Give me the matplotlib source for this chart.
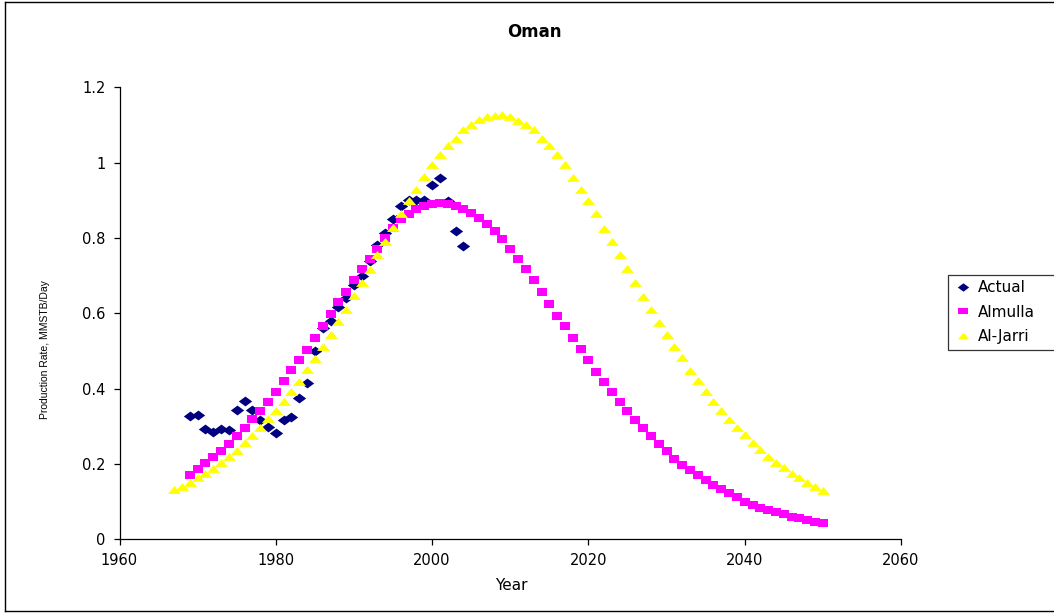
import matplotlib
matplotlib.use("Agg")
import matplotlib.pyplot as plt
from matplotlib.path import Path
from matplotlib.lines import Line2D

# ---- data -------------------------------------------------------------
years_actual = list(range(1969, 2005))
actual = [0.327, 0.331, 0.294, 0.286, 0.292, 0.290, 0.342, 0.366, 0.343,
          0.317, 0.297, 0.282, 0.318, 0.325, 0.374, 0.416, 0.501, 0.560,
          0.580, 0.617, 0.641, 0.676, 0.699, 0.740, 0.780, 0.812, 0.850,
          0.886, 0.902, 0.900, 0.900, 0.940, 0.958, 0.899, 0.819, 0.779]

years_almulla = list(range(1969, 2051))
almulla = [0.172, 0.187, 0.202, 0.219, 0.235, 0.254, 0.274, 0.295, 0.319,
           0.341, 0.364, 0.392, 0.420, 0.449, 0.476, 0.503, 0.535, 0.567,
           0.598, 0.631, 0.657, 0.688, 0.717, 0.743, 0.772, 0.799, 0.826,
           0.850, 0.864, 0.876, 0.884, 0.889, 0.892, 0.891, 0.886, 0.878,
           0.866, 0.853, 0.837, 0.818, 0.796, 0.772, 0.744, 0.717, 0.688,
           0.657, 0.625, 0.594, 0.566, 0.535, 0.504, 0.476, 0.444, 0.417,
           0.392, 0.365, 0.340, 0.317, 0.295, 0.274, 0.253, 0.235, 0.214,
           0.198, 0.185, 0.172, 0.157, 0.143, 0.133, 0.122, 0.111, 0.100,
           0.091, 0.084, 0.078, 0.072, 0.066, 0.060, 0.056, 0.051, 0.047,
           0.044]

years_aljarri = list(range(1967, 2051))
aljarri = [0.131, 0.140, 0.149, 0.162, 0.173, 0.186, 0.203, 0.218, 0.235,
           0.256, 0.275, 0.295, 0.319, 0.341, 0.365, 0.390, 0.418, 0.449,
           0.478, 0.510, 0.543, 0.577, 0.610, 0.645, 0.680, 0.716, 0.754,
           0.789, 0.827, 0.863, 0.898, 0.928, 0.962, 0.993, 1.020, 1.044,
           1.064, 1.086, 1.099, 1.114, 1.121, 1.123, 1.126, 1.121, 1.110,
           1.099, 1.086, 1.064, 1.044, 1.019, 0.993, 0.960, 0.928, 0.897,
           0.863, 0.825, 0.789, 0.756, 0.717, 0.681, 0.643, 0.608, 0.573,
           0.542, 0.510, 0.480, 0.448, 0.420, 0.391, 0.364, 0.341, 0.318,
           0.295, 0.276, 0.256, 0.236, 0.218, 0.203, 0.188, 0.174, 0.163,
           0.150, 0.139, 0.127]

series_names = ["Actual", "Almulla", "Al-Jarri"]
x_ticks = [1960, 1980, 2000, 2020, 2040, 2060]
y_ticks = [0, 0.2, 0.4, 0.6, 0.8, 1.0, 1.2]
y_tick_labels = ["0", "0.2", "0.4", "0.6", "0.8", "1", "1.2"]

# ---- figure -----------------------------------------------------------
W, H = 1054, 613
fig = plt.figure(figsize=(W / 100, H / 100), dpi=100)
plt.rcParams["font.family"] = ["DejaVu Sans"]

# plot area in pixel coordinates
px_left, px_right, px_top, px_bottom = 119.5, 901.0, 87.3, 539.3
ax = fig.add_axes([px_left / W, 1 - px_bottom / H,
                   (px_right - px_left) / W, (px_bottom - px_top) / H])

# outer chart frame (right edge runs off the canvas)
fig.add_artist(Line2D([5 / W, 5 / W], [1 - 2 / H, 1 - 611 / H],
                      transform=fig.transFigure, color="black", lw=1.0))
fig.add_artist(Line2D([5 / W, 1.0], [1 - 2 / H, 1 - 2 / H],
                      transform=fig.transFigure, color="black", lw=1.0))
fig.add_artist(Line2D([5 / W, 1.0], [1 - 611 / H, 1 - 611 / H],
                      transform=fig.transFigure, color="black", lw=1.0))

# Excel-like markers, slightly wider than tall
diamond = Path([(0, 0.74), (1, 0), (0, -0.74), (-1, 0), (0, 0.74)],
               [Path.MOVETO, Path.LINETO, Path.LINETO, Path.LINETO, Path.CLOSEPOLY])
square = Path([(-1, -0.72), (1, -0.72), (1, 0.72), (-1, 0.72), (-1, -0.72)],
              [Path.MOVETO, Path.LINETO, Path.LINETO, Path.LINETO, Path.CLOSEPOLY])
triangle = Path([(-1, -0.52), (1, -0.52), (0, 0.68), (-1, -0.52)],
                [Path.MOVETO, Path.LINETO, Path.LINETO, Path.CLOSEPOLY])

ax.plot(years_actual, actual, linestyle="none", marker=diamond,
        markersize=9.6, color="#000080", markeredgewidth=0, label=series_names[0])
ax.plot(years_almulla, almulla, linestyle="none", marker=square,
        markersize=7.9, color="#FF00FF", markeredgewidth=0, label=series_names[1])
ax.plot(years_aljarri, aljarri, linestyle="none", marker=triangle,
        markersize=9.4, color="#FFFF00", markeredgewidth=0, label=series_names[2])

ax.set_xlim(1960, 2060)
ax.set_ylim(0, 1.2)
ax.set_xticks(x_ticks)
ax.set_xticklabels([str(t) for t in x_ticks])
ax.set_yticks(y_ticks)
ax.set_yticklabels(y_tick_labels)

for side in ("top", "right"):
    ax.spines[side].set_visible(False)
for side in ("left", "bottom"):
    ax.spines[side].set_linewidth(0.9)
    ax.spines[side].set_color("black")
ax.tick_params(axis="both", direction="out", length=4, width=0.9,
               labelsize=10.5, colors="black", pad=6)
ax.set_facecolor("white")

# titles
fig.text(534 / W, 1 - 32 / H, "Oman", ha="center", va="center",
         fontsize=12, fontweight="bold")
ax.set_xlabel("Year", fontsize=11)
ax.xaxis.set_label_coords((511 - px_left) / (px_right - px_left),
                          (px_bottom - 586) / (px_bottom - px_top))
ax.xaxis.label.set_va("center")
ax.set_ylabel("Production Rate, MMSTB/Day", fontsize=7.5,
              family=["Liberation Sans", "DejaVu Sans"])
ax.yaxis.set_label_coords((45 - px_left) / (px_right - px_left),
                          (px_bottom - 350) / (px_bottom - px_top))
ax.yaxis.label.set_va("center")

# legend box at the right, running to the edge of the frame
leg = ax.legend(loc="upper left",
                bbox_to_anchor=(948 / W, 1 - 350 / H, (1060 - 948) / W, 75 / H),
                bbox_transform=fig.transFigure, mode="expand",
                fontsize=11, frameon=True, fancybox=False, shadow=False,
                borderaxespad=0, borderpad=0.35, labelspacing=0.62,
                handlelength=1.3, handletextpad=0.3, numpoints=1,
                markerscale=0.85)
leg.get_frame().set_edgecolor("black")
leg.get_frame().set_linewidth(0.9)

fig.savefig("out.png", dpi=100, facecolor="white")
